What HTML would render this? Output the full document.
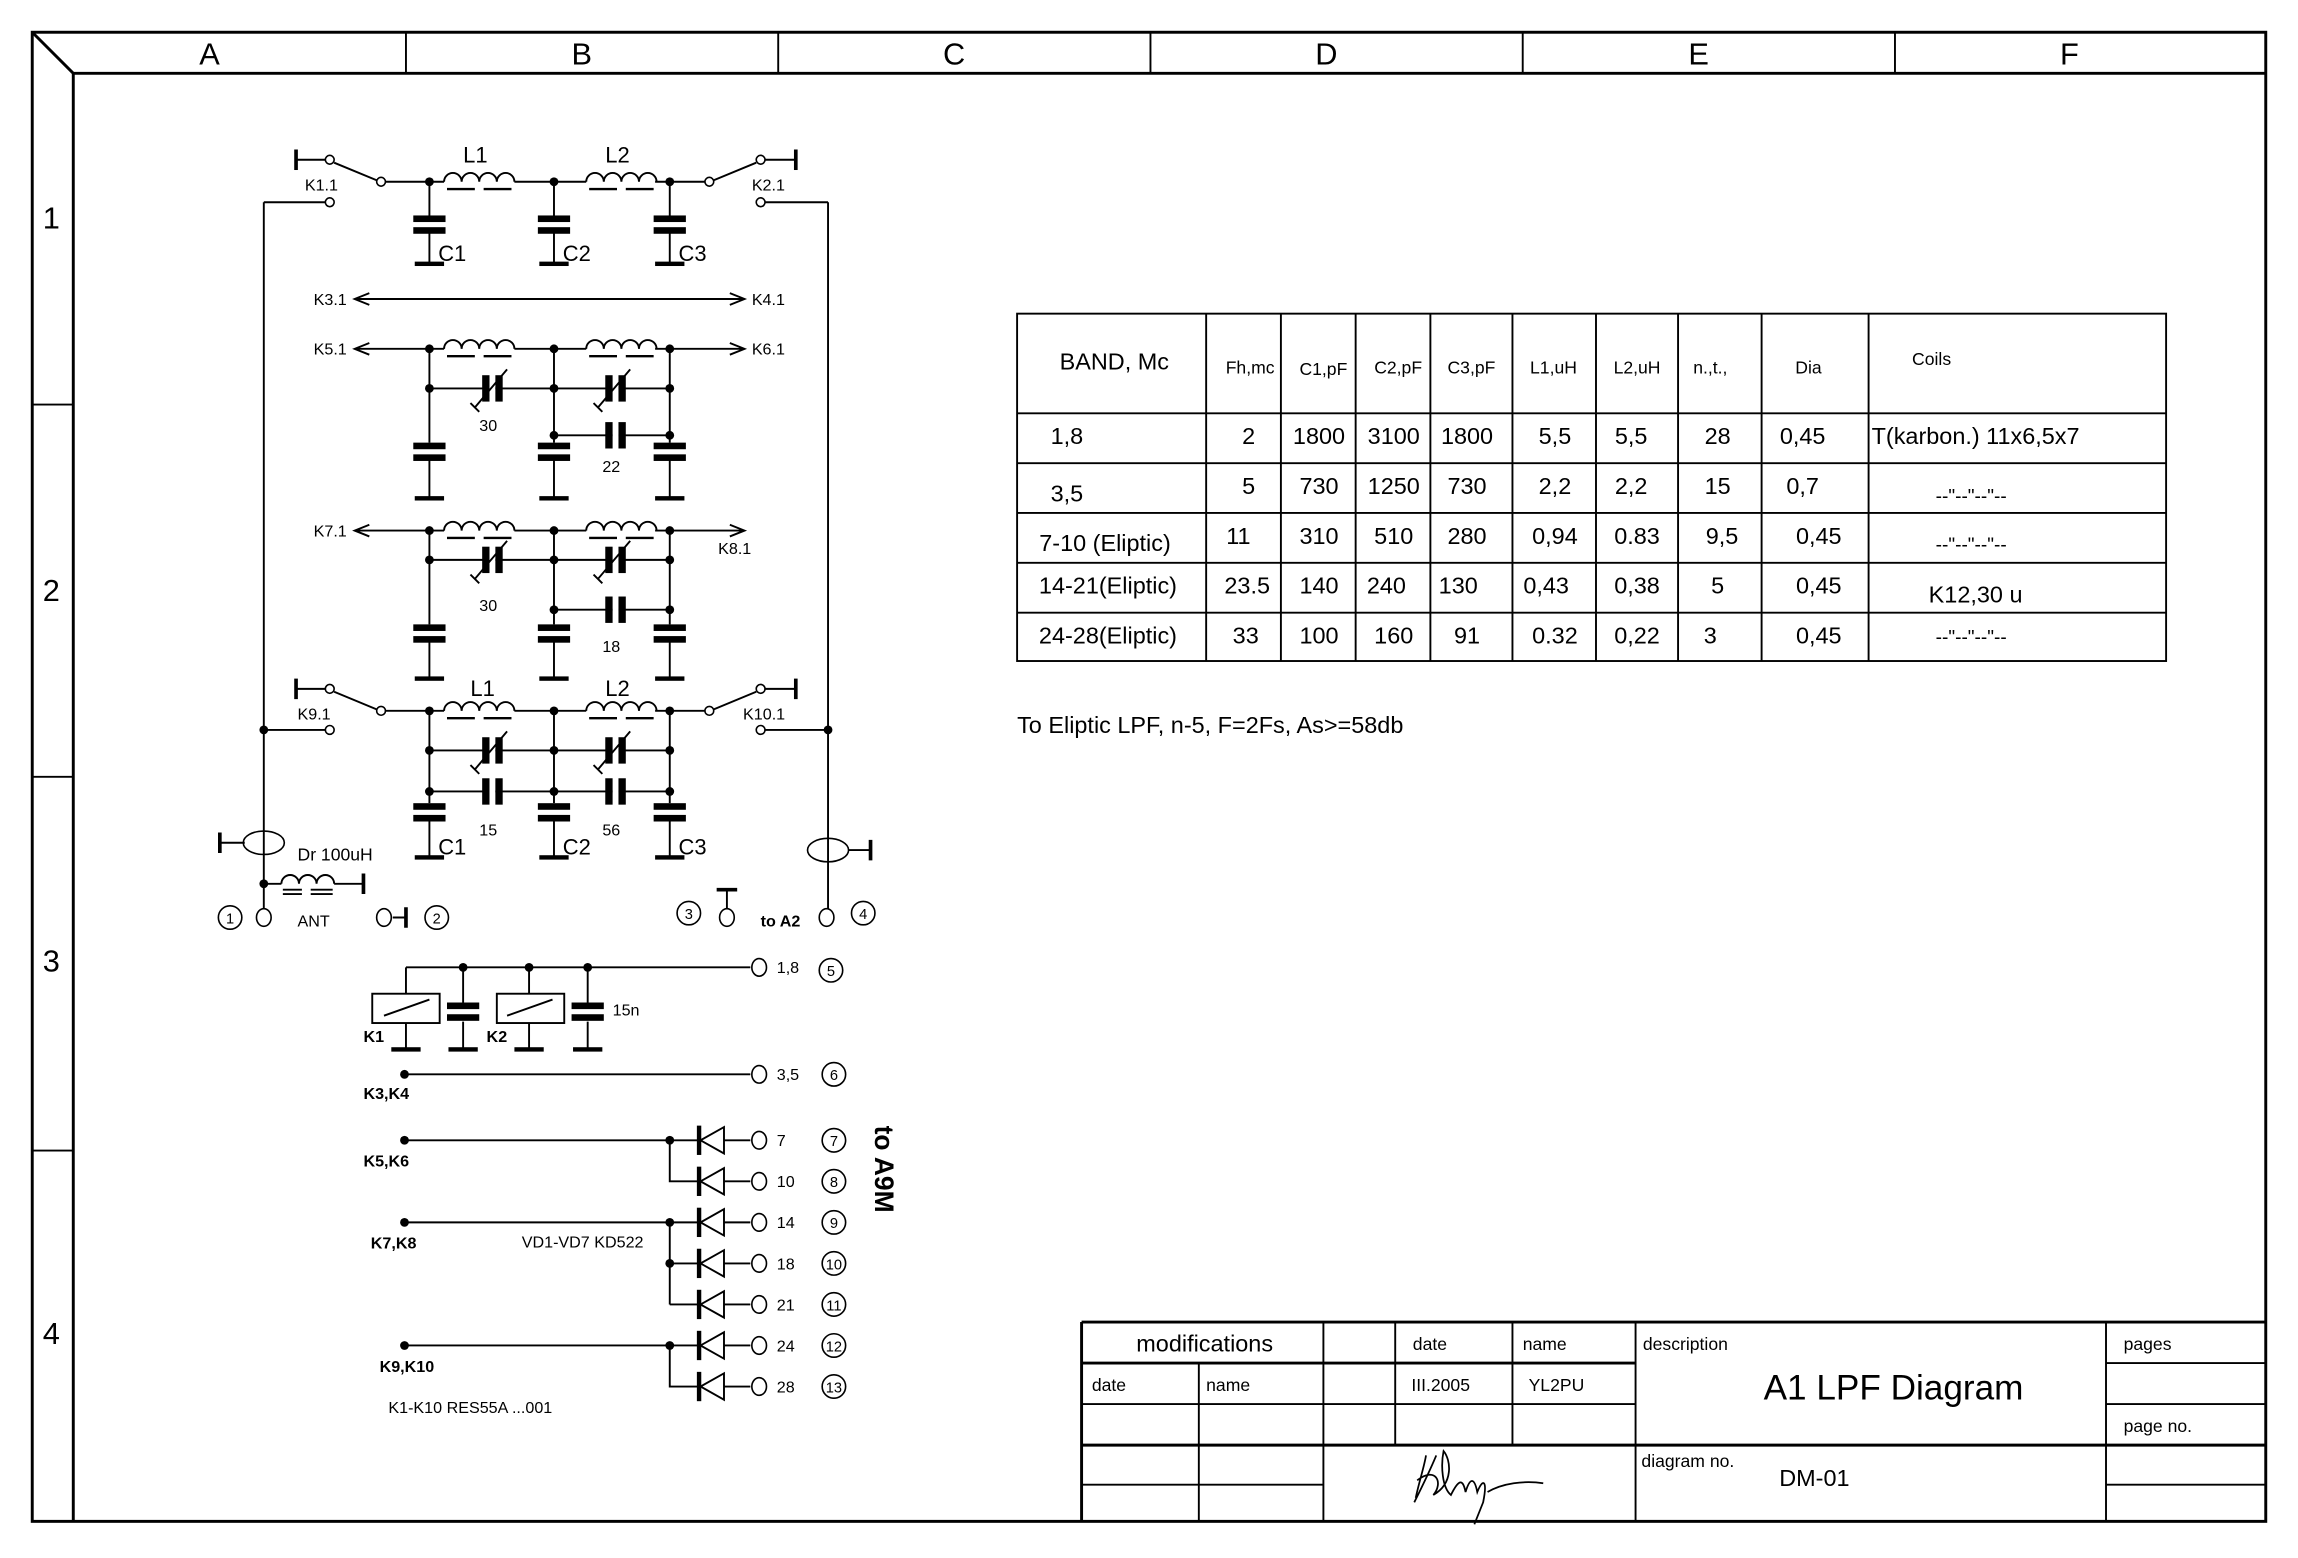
<!DOCTYPE html>
<html><head><meta charset="utf-8"><style>
html,body{margin:0;padding:0;background:#fff;}
svg{display:block;}
text{font-family:"Liberation Sans",Arial,sans-serif;fill:#000;}
</style></head><body>
<svg width="2298" height="1558" viewBox="0 0 1568 1063" preserveAspectRatio="none" xmlns="http://www.w3.org/2000/svg">
<defs>
<g id="ind" fill="none" stroke="#000" stroke-width="1.3"><path d="M0,0 a6,6 0 0 1 12,0 a6,6 0 0 1 12,0 a6,6 0 0 1 12,0 a6,6 0 0 1 12,0"/><path d="M2,5H21 M27,5H46" stroke-width="1.6"/></g>
<g id="vc"><rect x="-2" y="-3" width="4" height="6" fill="#fff"/><rect x="-7" y="-9" width="5" height="18"/><rect x="2" y="-9" width="5" height="18"/><path d="M-12,13 L10,-13 M-15,10 L-9,16" stroke="#000" stroke-width="1.3"/></g>
<g id="fc"><rect x="-2" y="-3" width="4" height="6" fill="#fff"/><rect x="-7" y="-9" width="5" height="18"/><rect x="2" y="-9" width="5" height="18"/></g>
<g id="pl"><rect x="-11" y="0" width="22" height="4.5"/><rect x="-11" y="8" width="22" height="4.5"/></g>
<g id="gnd"><rect x="-10" y="-1.5" width="20" height="3"/></g>
<g id="dio"><rect x="-1.5" y="-10" width="3" height="20"/><path d="M17,-9 L17,9 L1,0 Z" fill="#fff" stroke="#000" stroke-width="1.3"/></g>
</defs>

<!-- frame -->
<g fill="none" stroke="#000" stroke-width="2">
<rect x="22" y="22" width="1524" height="1016"/>
<path d="M50,50 H1546 M50,50 V1038 M22,22 L50,50"/>
</g>
<g stroke="#000" stroke-width="1.3">
<path d="M277,22V50 M531,22V50 M785,22V50 M1039,22V50 M1293,22V50 M22,276H50 M22,530H50 M22,785H50"/>
</g>
<g font-size="21" text-anchor="middle">
<text x="143" y="44">A</text><text x="397" y="44">B</text><text x="651" y="44">C</text><text x="905" y="44">D</text><text x="1159" y="44">E</text><text x="1412" y="44">F</text>
<text x="35" y="156">1</text><text x="35" y="410">2</text><text x="35" y="663">3</text><text x="35" y="917">4</text>
</g>

<g stroke="#000" stroke-width="1.3" fill="none">
<!-- top switches -->
<path d="M202,102V116" stroke-width="2.5"/><path d="M202,109H222 M228,111 L257,123 M263,124H303 M351,124H400 M447,124H481"/>
<path d="M543,102V116" stroke-width="2.5"/><path d="M522,109H543 M516,111 L487,123"/>
<path d="M180,138H222 M522,138H565 M180,138V623 M565,138V623"/>
<!-- bottom switches -->
<path d="M202,463V477" stroke-width="2.5"/><path d="M202,470H222 M228,472 L257,484 M263,485H303 M351,485H400 M447,485H481"/>
<path d="M543,463V477" stroke-width="2.5"/><path d="M522,470H543 M516,472 L487,484"/>
<path d="M180,498H222 M522,498H565"/>
<!-- top shunt caps -->
<path d="M293,124V147 M293,159V180 M378,124V147 M378,159V180 M457,124V147 M457,159V180"/>
<!-- K3/K4 -->
<path d="M242,204H508 M252,200L242,204L252,208 M498,200L508,204L498,208"/>
<!-- K5 row -->
<path d="M242,238H303 M351,238H400 M447,238H508 M252,234L242,238L252,242 M498,234L508,238L498,242"/>
<path d="M293,238V302 M378,238V302 M457,238V302 M293,314V340 M378,314V340 M457,314V340 M293,265H457 M378,297H457"/>
<!-- K7 row -->
<path d="M242,362H303 M351,362H400 M447,362H508 M252,358L242,362L252,366 M498,358L508,362L498,366"/>
<path d="M293,362V426 M378,362V426 M457,362V426 M293,438V463 M378,438V463 M457,438V463 M293,382H457 M378,416H457"/>
<!-- bottom row -->
<path d="M293,485V548 M378,485V548 M457,485V548 M293,560V585 M378,560V585 M457,560V585 M293,512H457 M293,540H457"/>
<!-- antenna -->
<path d="M150,575H167 M579,580H594 M180,603H192 M228,603H248 M268,626H277 M496,620V607"/>
<path d="M150,568V582 M594,573V587 M248,596V610 M277,619V633 M489,607H503" stroke-width="2.5"/>
<!-- relay section -->
<path d="M277,660H512 M277,660V678 M361,660V678 M316,660V684 M316,697V716 M401,660V684 M401,697V716 M277,698V716 M361,698V716"/>
<rect x="254" y="678" width="46" height="20"/><rect x="339" y="678" width="46" height="20"/>
<path d="M262,693L293,682 M346,693L377,682"/>
<path d="M276,733H512"/>
<!-- diodes -->
<path d="M276,778H512 M457,778V806H512 M276,834H512 M457,834V890 M457,862H512 M457,890H512 M276,918H512 M457,918V946H512"/>
</g>
<!-- plates -->
<g fill="#000">
<use href="#pl" x="293" y="147"/><use href="#pl" x="378" y="147"/><use href="#pl" x="457" y="147"/>
<use href="#gnd" x="293" y="180"/><use href="#gnd" x="378" y="180"/><use href="#gnd" x="457" y="180"/>
<use href="#pl" x="293" y="302"/><use href="#pl" x="378" y="302"/><use href="#pl" x="457" y="302"/>
<use href="#gnd" x="293" y="340"/><use href="#gnd" x="378" y="340"/><use href="#gnd" x="457" y="340"/>
<use href="#pl" x="293" y="426"/><use href="#pl" x="378" y="426"/><use href="#pl" x="457" y="426"/>
<use href="#gnd" x="293" y="463"/><use href="#gnd" x="378" y="463"/><use href="#gnd" x="457" y="463"/>
<use href="#pl" x="293" y="548"/><use href="#pl" x="378" y="548"/><use href="#pl" x="457" y="548"/>
<use href="#gnd" x="293" y="585"/><use href="#gnd" x="378" y="585"/><use href="#gnd" x="457" y="585"/>
<use href="#vc" x="336" y="265"/><use href="#vc" x="420" y="265"/><use href="#fc" x="420" y="297"/>
<use href="#vc" x="336" y="382"/><use href="#vc" x="420" y="382"/><use href="#fc" x="420" y="416"/>
<use href="#vc" x="336" y="512"/><use href="#vc" x="420" y="512"/><use href="#fc" x="336" y="540"/><use href="#fc" x="420" y="540"/>
<g transform="translate(316,684)"><rect x="-11" y="0" width="22" height="4.5"/><rect x="-11" y="8" width="22" height="4.5"/></g>
<g transform="translate(401,684)"><rect x="-11" y="0" width="22" height="4.5"/><rect x="-11" y="8" width="22" height="4.5"/></g>
<use href="#gnd" x="277" y="716"/><use href="#gnd" x="316" y="716"/><use href="#gnd" x="361" y="716"/><use href="#gnd" x="401" y="716"/>
<use href="#dio" x="477" y="778"/><use href="#dio" x="477" y="806"/><use href="#dio" x="477" y="834"/><use href="#dio" x="477" y="862"/><use href="#dio" x="477" y="890"/><use href="#dio" x="477" y="918"/><use href="#dio" x="477" y="946"/>
</g>
<!-- inductors -->
<use href="#ind" x="303" y="124"/><use href="#ind" x="400" y="124"/>
<use href="#ind" x="303" y="238"/><use href="#ind" x="400" y="238"/>
<use href="#ind" x="303" y="362"/><use href="#ind" x="400" y="362"/>
<use href="#ind" x="303" y="485"/><use href="#ind" x="400" y="485"/>
<g fill="none" stroke="#000" stroke-width="1.3"><path d="M192,603 a6,6 0 0 1 12,0 a6,6 0 0 1 12,0 a6,6 0 0 1 12,0"/><path d="M193,607H206 M212,607H227 M193,610H206 M212,610H227"/></g>
<!-- dots -->
<g fill="#000">
<circle cx="293" cy="124" r="3"/><circle cx="378" cy="124" r="3"/><circle cx="457" cy="124" r="3"/>
<circle cx="293" cy="238" r="3"/><circle cx="378" cy="238" r="3"/><circle cx="457" cy="238" r="3"/>
<circle cx="293" cy="265" r="3"/><circle cx="378" cy="265" r="3"/><circle cx="457" cy="265" r="3"/><circle cx="378" cy="297" r="3"/><circle cx="457" cy="297" r="3"/>
<circle cx="293" cy="362" r="3"/><circle cx="378" cy="362" r="3"/><circle cx="457" cy="362" r="3"/>
<circle cx="293" cy="382" r="3"/><circle cx="378" cy="382" r="3"/><circle cx="457" cy="382" r="3"/><circle cx="378" cy="416" r="3"/><circle cx="457" cy="416" r="3"/>
<circle cx="293" cy="485" r="3"/><circle cx="378" cy="485" r="3"/><circle cx="457" cy="485" r="3"/>
<circle cx="293" cy="512" r="3"/><circle cx="378" cy="512" r="3"/><circle cx="457" cy="512" r="3"/><circle cx="293" cy="540" r="3"/><circle cx="378" cy="540" r="3"/><circle cx="457" cy="540" r="3"/>
<circle cx="180" cy="498" r="3"/><circle cx="565" cy="498" r="3"/><circle cx="180" cy="603" r="3"/>
<circle cx="316" cy="660" r="3"/><circle cx="361" cy="660" r="3"/><circle cx="401" cy="660" r="3"/>
<circle cx="276" cy="733" r="3"/><circle cx="276" cy="778" r="3"/><circle cx="276" cy="834" r="3"/><circle cx="276" cy="918" r="3"/>
<circle cx="457" cy="778" r="3"/><circle cx="457" cy="834" r="3"/><circle cx="457" cy="862" r="3"/><circle cx="457" cy="918" r="3"/>
</g>
<!-- open terminals -->
<g fill="#fff" stroke="#000" stroke-width="1.1">
<circle cx="225" cy="109" r="3"/><circle cx="260" cy="124" r="3"/><circle cx="225" cy="138" r="3"/>
<circle cx="519" cy="109" r="3"/><circle cx="484" cy="124" r="3"/><circle cx="519" cy="138" r="3"/>
<circle cx="225" cy="470" r="3"/><circle cx="260" cy="485" r="3"/><circle cx="225" cy="498" r="3"/>
<circle cx="519" cy="470" r="3"/><circle cx="484" cy="485" r="3"/><circle cx="519" cy="498" r="3"/>
<ellipse cx="180" cy="575" rx="14" ry="8" fill="none"/><ellipse cx="565" cy="580" rx="14" ry="8" fill="none"/>
<ellipse cx="180" cy="626" rx="5" ry="6"/><ellipse cx="262" cy="626" rx="5" ry="6"/><ellipse cx="496" cy="626" rx="5" ry="6"/><ellipse cx="564" cy="626" rx="5" ry="6"/>
<ellipse cx="518" cy="660" rx="5" ry="6"/><ellipse cx="518" cy="733" rx="5" ry="6"/>
<ellipse cx="518" cy="778" rx="5" ry="6"/><ellipse cx="518" cy="806" rx="5" ry="6"/><ellipse cx="518" cy="834" rx="5" ry="6"/><ellipse cx="518" cy="862" rx="5" ry="6"/><ellipse cx="518" cy="890" rx="5" ry="6"/><ellipse cx="518" cy="918" rx="5" ry="6"/><ellipse cx="518" cy="946" rx="5" ry="6"/>
<circle cx="157" cy="626" r="8"/><circle cx="298" cy="626" r="8"/><circle cx="470" cy="623" r="8"/><circle cx="589" cy="623" r="8"/>
<circle cx="567" cy="662" r="8"/><circle cx="569" cy="733" r="8"/><circle cx="569" cy="778" r="8"/><circle cx="569" cy="806" r="8"/><circle cx="569" cy="834" r="8"/><circle cx="569" cy="862" r="8"/><circle cx="569" cy="890" r="8"/><circle cx="569" cy="918" r="8"/><circle cx="569" cy="946" r="8"/>
</g>
<!-- labels -->
<g font-size="11">
<text x="208" y="130">K1.1</text><text x="513" y="130">K2.1</text>
<text x="214" y="208">K3.1</text><text x="513" y="208">K4.1</text>
<text x="214" y="242">K5.1</text><text x="513" y="242">K6.1</text>
<text x="214" y="366">K7.1</text><text x="490" y="378">K8.1</text>
<text x="203" y="491">K9.1</text><text x="507" y="491">K10.1</text>
<text x="327" y="294">30</text><text x="411" y="322">22</text>
<text x="327" y="417">30</text><text x="411" y="445">18</text>
<text x="327" y="570">15</text><text x="411" y="570">56</text>
<text x="203" y="587" font-size="12">Dr 100uH</text>
<text x="203" y="632">ANT</text><text x="519" y="632" font-weight="bold">to A2</text>
<text x="418" y="693" fill="#333">15n</text>
<text x="530" y="664">1,8</text><text x="530" y="737">3,5</text>
<text x="530" y="782">7</text><text x="530" y="810">10</text><text x="530" y="838">14</text><text x="530" y="866">18</text><text x="530" y="894">21</text><text x="530" y="922">24</text><text x="530" y="950">28</text>
<text x="248" y="711" font-weight="bold">K1</text><text x="332" y="711" font-weight="bold">K2</text>
<text x="248" y="750" font-weight="bold">K3,K4</text><text x="248" y="796" font-weight="bold">K5,K6</text><text x="253" y="852" font-weight="bold">K7,K8</text><text x="259" y="936" font-weight="bold">K9,K10</text>
<text x="356" y="851">VD1-VD7 KD522</text><text x="265" y="964">K1-K10 RES55A ...001</text>
</g>
<g font-size="10" text-anchor="middle">
<text x="157" y="630">1</text><text x="298" y="630">2</text><text x="470" y="627">3</text><text x="589" y="627">4</text>
<text x="567" y="666">5</text><text x="569" y="737">6</text><text x="569" y="782">7</text><text x="569" y="810">8</text><text x="569" y="838">9</text><text x="569" y="866">10</text><text x="569" y="894">11</text><text x="569" y="922">12</text><text x="569" y="950">13</text>
</g>
<g font-size="15">
<text x="316" y="111">L1</text><text x="413" y="111">L2</text>
<text x="299" y="178">C1</text><text x="384" y="178">C2</text><text x="463" y="178">C3</text>
<text x="321" y="475">L1</text><text x="413" y="475">L2</text>
<text x="299" y="583">C1</text><text x="384" y="583">C2</text><text x="463" y="583">C3</text>
</g>
<text transform="translate(597,768) rotate(90)" font-size="18" font-weight="bold">to A9M</text>

<!-- table -->
<g stroke="#000" stroke-width="1.3" fill="none">
<rect x="694" y="214" width="784" height="237"/>
<path d="M823,214V451 M874,214V451 M925,214V451 M976,214V451 M1032,214V451 M1089,214V451 M1145,214V451 M1202,214V451 M1275,214V451 M694,282H1478 M694,316H1478 M694,350H1478 M694,384H1478 M694,418H1478"/>
</g>
<g font-size="12" text-anchor="middle">
<text x="853" y="255">Fh,mc</text><text x="903" y="256">C1,pF</text><text x="954" y="255">C2,pF</text><text x="1004" y="255">C3,pF</text><text x="1060" y="255">L1,uH</text><text x="1117" y="255">L2,uH</text><text x="1167" y="255">n.,t.,</text><text x="1234" y="255">Dia</text><text x="1318" y="249">Coils</text>
</g>
<text x="723" y="252" font-size="16">BAND, Mc</text>
<g font-size="16" text-anchor="middle">
<text x="728" y="303">1,8</text><text x="852" y="303">2</text><text x="900" y="303">1800</text><text x="951" y="303">3100</text><text x="1001" y="303">1800</text><text x="1061" y="303">5,5</text><text x="1113" y="303">5,5</text><text x="1172" y="303">28</text><text x="1230" y="303">0,45</text>
<text x="728" y="342">3,5</text><text x="852" y="337">5</text><text x="900" y="337">730</text><text x="951" y="337">1250</text><text x="1001" y="337">730</text><text x="1061" y="337">2,2</text><text x="1113" y="337">2,2</text><text x="1172" y="337">15</text><text x="1230" y="337">0,7</text>
<text x="754" y="376">7-10 (Eliptic)</text><text x="845" y="371">11</text><text x="900" y="371">310</text><text x="951" y="371">510</text><text x="1001" y="371">280</text><text x="1061" y="371">0,94</text><text x="1117" y="371">0.83</text><text x="1175" y="371">9,5</text><text x="1241" y="371">0,45</text>
<text x="756" y="405">14-21(Eliptic)</text><text x="851" y="405">23.5</text><text x="900" y="405">140</text><text x="946" y="405">240</text><text x="995" y="405">130</text><text x="1055" y="405">0,43</text><text x="1117" y="405">0,38</text><text x="1172" y="405">5</text><text x="1241" y="405">0,45</text>
<text x="756" y="439">24-28(Eliptic)</text><text x="850" y="439">33</text><text x="900" y="439">100</text><text x="951" y="439">160</text><text x="1001" y="439">91</text><text x="1061" y="439">0.32</text><text x="1117" y="439">0,22</text><text x="1167" y="439">3</text><text x="1241" y="439">0,45</text>
<text x="1348" y="303">T(karbon.) 11x6,5x7</text>
<text x="1345" y="343" font-size="13">--"--"--"--</text><text x="1345" y="376" font-size="13">--"--"--"--</text>
<text x="1348" y="411">K12,30 u</text>
<text x="1345" y="439" font-size="13">--"--"--"--</text>
</g>
<text x="694" y="500" font-size="16">To Eliptic LPF, n-5, F=2Fs, As&gt;=58db</text>

<!-- title block -->
<g stroke="#000" fill="none">
<path d="M738,902H1546 M738,902V1038 M738,986H1546" stroke-width="2"/>
<path d="M738,930H1116" stroke-width="2"/>
<path d="M818,930V1038 M903,902V1038 M952,902V986 M1032,902V986 M1116,902V1038 M1437,902V1038 M738,958H1116 M738,1013H903 M1437,930H1546 M1437,958H1546 M1437,1013H1546" stroke-width="1.3"/>
</g>
<g font-size="12">
<text x="822" y="922" font-size="16" text-anchor="middle">modifications</text>
<text x="964" y="921">date</text><text x="1039" y="921">name</text><text x="1121" y="921">description</text><text x="1449" y="921">pages</text>
<text x="745" y="949">date</text><text x="823" y="949">name</text><text x="963" y="949">III.2005</text><text x="1043" y="949">YL2PU</text>
<text x="1449" y="977">page no.</text><text x="1120" y="1001">diagram no.</text>
<text x="1292" y="955" font-size="24" text-anchor="middle">A1 LPF Diagram</text>
<text x="1238" y="1014" font-size="16" text-anchor="middle">DM-01</text>
</g>
<path d="M980,993 C975,1005 970,1015 965,1025 M973,993 C972,1000 968,1012 966,1022 M967,1010 C980,1000 985,1012 978,1020 C992,1012 990,996 985,990 C983,1000 984,1015 990,1020 C995,1010 998,1008 1000,1018 C1003,1008 1006,1008 1008,1018 C1012,1008 1015,1010 1012,1025 L1006,1040 M1015,1018 C1025,1012 1040,1010 1053,1012" fill="none" stroke="#000" stroke-width="1.2"/>
</svg>
</body></html>
